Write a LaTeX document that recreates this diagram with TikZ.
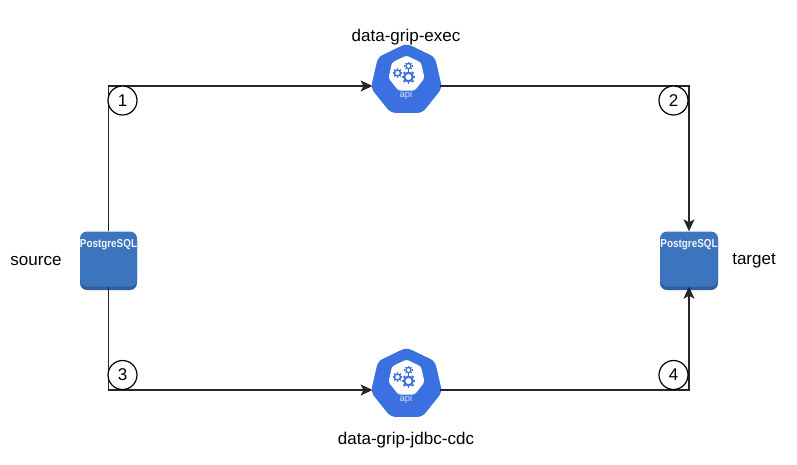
\documentclass[tikz,border=0pt]{standalone}
\usepackage{fontspec}
\setmainfont{Liberation Sans}
\usetikzlibrary{arrows.meta,shapes.geometric}
\definecolor{kblue}{HTML}{3A70E0}
\definecolor{pgblue}{HTML}{3C74BD}
\definecolor{pgdark}{HTML}{2F5E9E}
\tikzset{
  x=1pt,y=-1pt,
  conn/.style={line width=1.2pt,draw=black!85},
  arrowconn/.style={conn,-{Stealth[length=12pt,width=11pt,inset=3pt]}},
  numcirc/.style={circle,draw=black,line width=1.2pt,fill=white,minimum size=29pt,inner sep=0pt,font=\fontsize{17}{19}\selectfont},
  lbl/.style={font=\fontsize{17}{19}\selectfont,text=black,inner sep=0pt},
  pgbox/.style={rectangle,rounded corners=7pt,fill=pgblue,minimum width=57pt,minimum height=55pt,inner sep=0pt},
  pgname/.style={font=\fontsize{11.5}{13}\selectfont\bfseries,text=white!93!pgblue,inner sep=0pt},
  apibox/.style={regular polygon,regular polygon sides=7,minimum size=73pt,inner sep=0pt,fill=kblue,rounded corners=5pt},
  apiinner/.style={regular polygon,regular polygon sides=7,minimum size=37pt,inner sep=0pt,fill=white,rounded corners=2.5pt},
  apiname/.style={font=\fontsize{9.5}{11}\selectfont,text=white!80!kblue,inner sep=0pt},
  pics/gear/.style={code={
    \draw[kblue,line width=#1*0.36pt] (0,0) circle[radius=#1*0.72];
    \foreach \a in {0,45,...,315}{\draw[kblue,line width=#1*0.3pt] (\a:#1*0.85) -- (\a:#1*1.15);}
  }},
  pics/apiicon/.style={code={
    \node[apiinner] (#1inner) at (0,-6) {};
    \pic at (2,-3) {gear=6};
    \pic at (-9,-7) {gear=4.2};
    \pic at (2,-14) {gear=3.6};
    \node[apiname] (#1name) at (-0.5,15) {api};
  }},
}
\begin{document}
\begin{tikzpicture}
\useasboundingbox (0,0) rectangle (797,464);
% dark rims of the database boxes
\fill[pgdark,rounded corners=7pt] (80,234) rectangle (137,290);
\fill[pgdark,rounded corners=7pt] (660,234) rectangle (718,290);
\node[pgbox] (src) at (108.5,259) {};
\node[pgbox,minimum width=58pt] (tgt) at (689,259) {};
\node[pgname] (srcname) at (108.5,245) {\scalebox{0.86}[1]{PostgreSQL}};
\node[pgname] (tgtname) at (689,245) {\scalebox{0.86}[1]{PostgreSQL}};
\node[apibox] (exec) at (406.5,80) {};
\node[apibox] (cdc) at (406.5,384) {};
\pic at (406.5,80) {apiicon=e};
\pic at (406.5,384) {apiicon=c};
% connectors
\draw[arrowconn] (src.north) |- ([yshift=-6pt]exec.west);
\draw[arrowconn] ([yshift=-6pt]exec.east) -| (tgt.north);
\draw[arrowconn] (src.south) |- ([yshift=-6pt]cdc.west);
\draw[arrowconn] ([yshift=-6pt]cdc.east) -| (tgt.south);
% numbers
\node[numcirc] (n1) at (122.5,100.5) {1};
\node[numcirc] (n2) at (673.5,100.5) {2};
\node[numcirc] (n3) at (122.5,375) {3};
\node[numcirc] (n4) at (673.5,375) {4};
% labels
\node[lbl] (lsrc) at (36,261) {source};
\node[lbl] (ltgt) at (754,261) {target};
\node[lbl] (lexec) at (406,37) {data-grip-exec};
\node[lbl] (lcdc) at (406,440) {data-grip-jdbc-cdc};
\end{tikzpicture}
\end{document}
